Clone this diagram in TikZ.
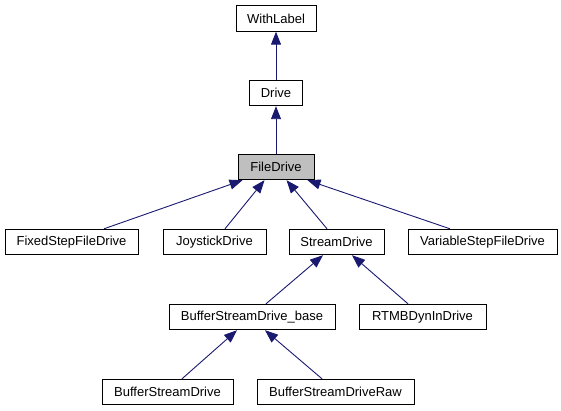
\documentclass[tikz,border=0pt]{standalone}
\usepackage{fontspec}
\setmainfont{Liberation Sans}
\usetikzlibrary{arrows.meta}
\definecolor{edgeblue}{HTML}{191970}
\definecolor{curgray}{HTML}{BFBFBF}
\begin{document}
\begin{tikzpicture}[x=1pt,y=-1pt,
  box/.style={draw=black, line width=0.9pt, rectangle, inner sep=0pt,
    minimum height=25.5pt, font=\fontsize{13}{15}\selectfont},
  curbox/.style={box, fill=curgray},
  edge/.style={draw=edgeblue, line width=0.9pt,
    -{Triangle[length=13pt,width=10pt,fill=edgeblue]}}]
\useasboundingbox (0,0) rectangle (561,411);
% nodes
\node[box, minimum width=80pt] (wl) at (276,18.5) {WithLabel};
\node[box, minimum width=53pt] (drv) at (276,93) {Drive};
\node[curbox, minimum width=76pt] (fd) at (276,167) {FileDrive};
\node[box, minimum width=133pt] (fsfd) at (71.5,242) {FixedStepFileDrive};
\node[box, minimum width=103pt] (joy) at (214.5,242) {JoystickDrive};
\node[box, minimum width=95pt] (sd) at (336.5,242) {StreamDrive};
\node[box, minimum width=149pt] (vsfd) at (482.5,242) {VariableStepFileDrive};
\node[box, minimum width=166pt] (bsdb) at (252,317) {BufferStreamDrive\_base};
\node[box, minimum width=127pt] (rtmb) at (422.5,317) {RTMBDynInDrive};
\node[box, minimum width=131pt] (bsd) at (167.5,392) {BufferStreamDrive};
\node[box, minimum width=157pt] (bsdr) at (335.5,392) {BufferStreamDriveRaw};
% edges
\draw[edge] (drv.north) -- (wl.south);
\draw[edge] (fd.north) -- (drv.south);
\draw[edge] ([xshift=32.5pt]fsfd.north) -- ([xshift=-33.5pt]fd.south);
\draw[edge] ([xshift=10.5pt]joy.north) -- ([xshift=-11.5pt]fd.south);
\draw[edge] ([xshift=-9.5pt]sd.north) -- ([xshift=10.5pt]fd.south);
\draw[edge] ([xshift=-32.5pt]vsfd.north) -- ([xshift=31.5pt]fd.south);
\draw[edge] ([xshift=14pt]bsdb.north) -- ([xshift=-13.5pt]sd.south);
\draw[edge] ([xshift=-14.5pt]rtmb.north) -- ([xshift=15.5pt]sd.south);
\draw[edge] ([xshift=14.5pt]bsd.north) -- ([xshift=-15pt]bsdb.south);
\draw[edge] ([xshift=-13.5pt]bsdr.north) -- ([xshift=13pt]bsdb.south);
\end{tikzpicture}
\end{document}
